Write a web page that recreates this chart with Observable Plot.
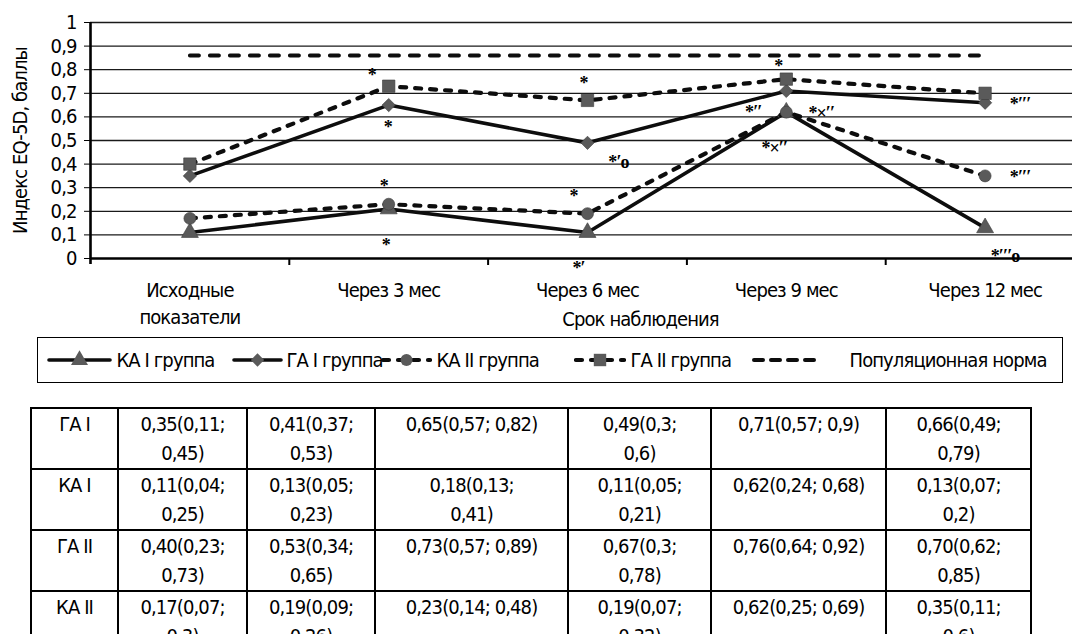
<!DOCTYPE html>
<html><head><meta charset="utf-8">
<script src="https://cdn.jsdelivr.net/npm/d3@7"></script>
<script src="https://cdn.jsdelivr.net/npm/@observablehq/plot@0.6"></script>
<style>
body{margin:0;background:#fff;width:1072px;height:634px;overflow:hidden;position:relative;
 font-family:"DejaVu Sans Condensed","Liberation Sans Narrow",sans-serif;color:#000;letter-spacing:-0.9px;}
#chart{position:absolute;left:0;top:0;}
#legend{position:absolute;left:37px;top:337px;width:1026px;height:46px;border:1.5px solid #000;box-sizing:border-box;}
.item{position:absolute;top:0;height:100%;display:flex;align-items:center;font-size:20px;white-space:nowrap;}
.item svg{display:block;}
#tbl{position:absolute;left:30px;top:407px;border-collapse:collapse;table-layout:fixed;font-size:20px;}
#tbl td{border:2px solid #000;text-align:center;vertical-align:top;line-height:29px;padding:1px 0 0 0;height:56px;white-space:pre;}
</style></head><body>
<div id="chart"></div>
<div id="legend"></div>
<table id="tbl"></table>
<script>
// ---------- data ----------
const categories = ["Исходные\nпоказатели", "Через 3 мес", "Через 6 мес", "Через 9 мес", "Через 12 мес"];
const kaI  = [0.11, 0.21, 0.11, 0.62, 0.13];
const gaI  = [0.35, 0.65, 0.49, 0.71, 0.66];
const kaII = [0.17, 0.23, 0.19, 0.62, 0.35];
const gaII = [0.40, 0.73, 0.67, 0.76, 0.70];
const popNorm = [0.86, 0.86, 0.86, 0.86, 0.86];
const yTicks = [0, 0.1, 0.2, 0.3, 0.4, 0.5, 0.6, 0.7, 0.8, 0.9, 1];
const seriesNames = ["КА I группа", "ГА I группа", "КА II группа", "ГА II группа", "Популяционная норма"];
const yLabel = "Индекс EQ-5D, баллы";
const xLabel = "Срок наблюдения";

// annotations: series key, category index, text
const annotations = [
  ["gaII", 1, "*"], ["gaI", 1, "*"], ["kaII", 1, "*"], ["kaI", 1, "*"],
  ["gaII", 2, "*"], ["gaI", 2, "*′o"], ["kaII", 2, "*"], ["kaI", 2, "*′"],
  ["gaII", 3, "*"], ["gaI", 3, "*′′"], ["kaII", 3, "*×′′"], ["kaI", 3, "*×′′"],
  ["gaI", 4, "*′′′"], ["kaII", 4, "*′′′"], ["kaI", 4, "*′′′o"]
];

// table
const tableRowLabels = ["ГА I", "КА I", "ГА II", "КА II"];
const tableGA1  = ["0,35(0,11;\n0,45)", "0,41(0,37;\n0,53)", "0,65(0,57; 0,82)", "0,49(0,3;\n0,6)", "0,71(0,57; 0,9)", "0,66(0,49;\n0,79)"];
const tableKA1  = ["0,11(0,04;\n0,25)", "0,13(0,05;\n0,23)", "0,18(0,13;\n0,41)", "0,11(0,05;\n0,21)", "0,62(0,24; 0,68)", "0,13(0,07;\n0,2)"];
const tableGA2  = ["0,40(0,23;\n0,73)", "0,53(0,34;\n0,65)", "0,73(0,57; 0,89)", "0,67(0,3;\n0,78)", "0,76(0,64; 0,92)", "0,70(0,62;\n0,85)"];
const tableKA2  = ["0,17(0,07;\n0,3)", "0,19(0,09;\n0,26)", "0,23(0,14; 0,48)", "0,19(0,07;\n0,32)", "0,62(0,25; 0,69)", "0,35(0,11;\n0,6)"];

// ---------- layout / style ----------
const FONT = '"DejaVu Sans Condensed","Liberation Sans Narrow",sans-serif';
const seriesValues = {kaI, gaI, kaII, gaII};
const annotOffsets = [
  [-17, -11], [-1, 22], [-5, -18], [-3, 36],
  [-4, -17], [31, 19], [-14, -17], [-9, 36],
  [-8, -13], [-33, 21], [35, 1], [-12, 36],
  [35, 1], [35, 1], [20, 28]
];
const gray = "#5a5a5a";
const styles = [
  {key: "kaI",  values: kaI,  symbol: "triangle", r: 6.3, dash: null,  sw: 3.6},
  {key: "gaI",  values: gaI,  symbol: "diamond2", r: 6.0, dash: null,  sw: 3.6},
  {key: "kaII", values: kaII, symbol: "circle",   r: 6.0, dash: "6,9", sw: 4.2},
  {key: "gaII", values: gaII, symbol: "square",   r: 7.0, dash: "6,9", sw: 4.2}
];
const idx = d3.range(categories.length);
const boundaries = d3.range(categories.length + 1).map(i => i - 0.5);
const rows = (vals) => vals.map((v, i) => ({i, v}));
const fmt = v => String(v).replace(".", ",");

const marks = [
  Plot.ruleY(yTicks.filter(v => v > 0), {stroke: "#1a1a1a", strokeWidth: 1.3}),
  Plot.ruleY([0], {stroke: "#000", strokeWidth: 2.6}),
  Plot.ruleX([boundaries[0]], {stroke: "#000", strokeWidth: 2.6, insetBottom: -6}),
  Plot.ruleX(boundaries.slice(1), {y1: 0, y2: 0, insetBottom: -7, stroke: "#000", strokeWidth: 2}),
  Plot.axisY({ticks: yTicks, tickFormat: fmt, tickSize: 6, tickPadding: 8, fontSize: 20,
    label: yLabel, labelAnchor: "center", labelOffset: 78, labelArrow: "none"}),
  Plot.axisX({ticks: idx, tickFormat: i => categories[i], tickSize: 0, tickPadding: 19,
    fontSize: 20, lineHeight: 1.35, label: null}),
  Plot.text([xLabel], {frameAnchor: "bottom", dx: 59, dy: 67, fontSize: 20})
];
for (const s of styles) {
  marks.push(Plot.line(rows(s.values), {x: "i", y: "v", stroke: "#0d0d0d", strokeWidth: s.sw,
    strokeDasharray: s.dash, strokeLinecap: "round", strokeLinejoin: "round"}));
  marks.push(Plot.dot(rows(s.values), {x: "i", y: "v", symbol: s.symbol, r: s.r, fill: gray, stroke: "#3a3a3a", strokeWidth: 0.6}));
}
marks.push(Plot.line(rows(popNorm), {x: "i", y: "v", stroke: "#0d0d0d", strokeWidth: 4, strokeDasharray: "9,11", strokeLinecap: "round"}));
annotations.forEach(([key, i, t], k) => {
  marks.push(Plot.text([{i, v: seriesValues[key][i], t}], {x: "i", y: "v", text: "t",
    dx: annotOffsets[k][0], dy: annotOffsets[k][1], fontSize: 18, fontWeight: "bold",
    fontFamily: "Liberation Serif, DejaVu Serif, serif", fill: "#000"}));
});

const chart = Plot.plot({
  width: 1072, height: 335,
  marginTop: 22, marginBottom: 77, marginLeft: 90, marginRight: 0,
  style: {fontFamily: FONT, fontSize: "20px", color: "#000", background: "#fff", letterSpacing: "-0.9px"},
  x: {type: "linear", domain: [boundaries[0], boundaries[boundaries.length - 1]], range: [90, 1084], axis: null},
  y: {domain: [0, 1], axis: null},
  marks
});
document.getElementById("chart").appendChild(chart);

// ---------- legend ----------
const legendLayout = [
  {line: [47, 112], text: 117},
  {line: [232, 283], text: 287},
  {line: [381, 432], text: 437},
  {line: [574, 626], text: 631},
  {line: [752, 820], text: 850}
];
const legendStyles = [
  {symbol: d3.symbolTriangle, r: 6.3, dash: null, sw: 3.6},
  {symbol: d3.symbolDiamond2, r: 6.0, dash: null, sw: 3.6},
  {symbol: d3.symbolCircle, r: 6.0, dash: "6,9", sw: 4.2},
  {symbol: d3.symbolSquare, r: 7.0, dash: "6,9", sw: 4.2},
  {symbol: null, r: 0, dash: "9,8", sw: 4}
];
const legend = document.getElementById("legend");
seriesNames.forEach((name, k) => {
  const L = legendLayout[k], st = legendStyles[k];
  const w = L.line[1] - L.line[0];
  const item = document.createElement("div");
  item.className = "item";
  item.style.left = (L.line[0] - 37 - 1.5) + "px";
  const svg = d3.create("svg").attr("width", w).attr("height", 20);
  svg.append("line").attr("x1", 2).attr("x2", w - 2).attr("y1", 10).attr("y2", 10)
    .attr("stroke", "#0d0d0d").attr("stroke-width", st.sw).attr("stroke-linecap", "round")
    .attr("stroke-dasharray", st.dash);
  if (st.symbol) svg.append("path").attr("transform", `translate(${w / 2},10)`)
    .attr("d", d3.symbol(st.symbol, Math.PI * st.r * st.r)()).attr("fill", gray);
  item.appendChild(svg.node());
  const span = document.createElement("span");
  span.textContent = name;
  span.style.marginLeft = (L.text - L.line[1]) + "px";
  item.appendChild(span);
  legend.appendChild(item);
});

// ---------- table ----------
const colWidths = [87, 129, 128, 193, 143, 175, 145];
const tbl = document.getElementById("tbl");
const cg = document.createElement("colgroup");
colWidths.forEach(w => { const c = document.createElement("col"); c.style.width = w + "px"; cg.appendChild(c); });
tbl.appendChild(cg);
tbl.style.width = d3.sum(colWidths) + "px";
[tableGA1, tableKA1, tableGA2, tableKA2].forEach((vals, r) => {
  const tr = document.createElement("tr");
  [tableRowLabels[r], ...vals].forEach(t => {
    const td = document.createElement("td");
    td.textContent = t;
    tr.appendChild(td);
  });
  tbl.appendChild(tr);
});
</script>
</body></html>
